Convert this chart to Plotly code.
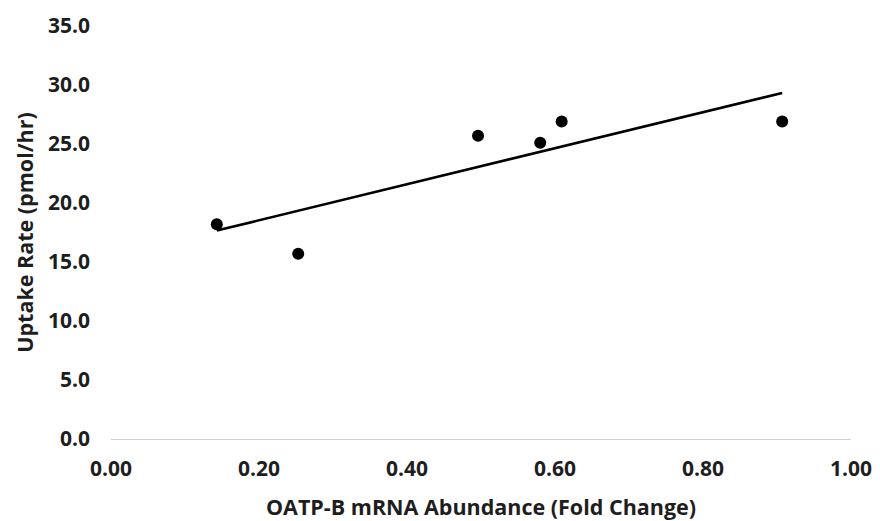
import numpy as np
import plotly.graph_objects as go

x_fold_change = [0.143, 0.253, 0.496, 0.580, 0.609, 0.907]
y_uptake = [18.2, 15.7, 25.7, 25.1, 26.9, 26.9]
x_ticks = [0.0, 0.2, 0.4, 0.6, 0.8, 1.0]
y_ticks = [0, 5, 10, 15, 20, 25, 30, 35]

slope, intercept = np.polyfit(x_fold_change, y_uptake, 1)
x_fit = [min(x_fold_change), max(x_fold_change)]
y_fit = [slope * v + intercept for v in x_fit]

font_family = "'Open Sans', Lato, sans-serif"
txt_color = "#1e1e1e"

fig = go.Figure()
fig.add_trace(go.Scatter(x=x_fit, y=y_fit, mode="lines",
                         line=dict(color="black", width=2.6),
                         showlegend=False, hoverinfo="skip"))
fig.add_trace(go.Scatter(x=x_fold_change, y=y_uptake, mode="markers",
                         marker=dict(color="black", size=12),
                         showlegend=False))

fig.update_layout(
    width=880, height=521,
    margin=dict(l=103, r=37, t=18, b=90),
    paper_bgcolor="white", plot_bgcolor="white",
    font=dict(family=font_family, color=txt_color),
    xaxis=dict(range=[0, 1], tickvals=x_ticks,
               ticktext=[f"{v:.2f}" for v in x_ticks],
               showgrid=False, zeroline=False, automargin=False,
               showline=True, linecolor="#d0d0d0", linewidth=1.3,
               ticks="", ticklabelstandoff=11,
               tickfont=dict(size=21, family=font_family, color=txt_color, weight="bold"),
               title=dict(text="<b>OATP-B mRNA Abundance (Fold Change)</b>",
                          font=dict(size=21.5, family=font_family, color=txt_color),
                          standoff=18)),
    yaxis=dict(range=[0, 35], tickvals=y_ticks,
               ticktext=[f"{v:.1f}" for v in y_ticks],
               showgrid=False, zeroline=False, showline=False, automargin=False,
               ticks="", ticklabelstandoff=20,
               tickfont=dict(size=21, family=font_family, color=txt_color, weight="bold"),
               title=dict(text="<b>Uptake Rate (pmol/hr)</b>",
                          font=dict(size=21.5, family=font_family, color=txt_color),
                          standoff=8)),
)

fig.write_html("out.html")
